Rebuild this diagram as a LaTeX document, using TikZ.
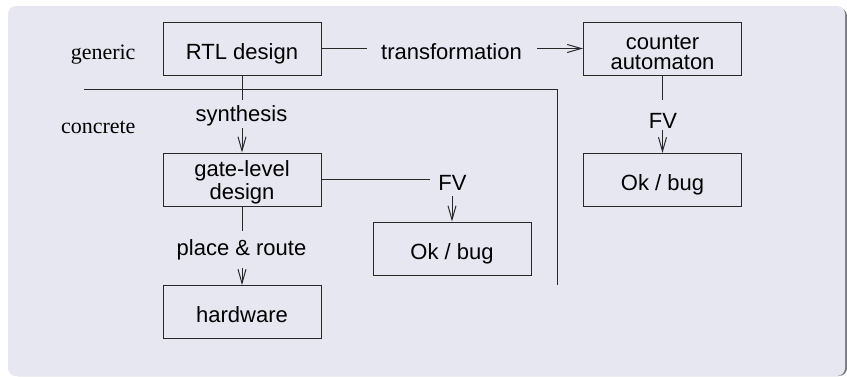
\documentclass[tikz,border=0pt]{standalone}
\usepackage{fontspec}
\setmainfont{Liberation Serif}
\setsansfont{Liberation Sans}
\usetikzlibrary{arrows.meta}

\definecolor{blockbg}{RGB}{231,231,242}
\definecolor{blockshadow}{RGB}{120,120,128}
\definecolor{ink}{RGB}{40,40,40}

\begin{document}
\begin{tikzpicture}[
  x=1pt, y=-1pt,
  line width=1pt,
  color=ink,
  stage/.style={draw=ink, line width=0.9pt, minimum width=158pt, minimum height=53pt, inner sep=0pt},
  boxtxt/.style={anchor=base, inner sep=0pt, font=\sffamily\fontsize{22}{22}\selectfont, text=black},
  flowlbl/.style={anchor=base, inner sep=0pt, text height=16pt, text depth=0pt,
                  font=\sffamily\fontsize{22}{22}\selectfont, text=black},
  levellbl/.style={anchor=base east, inner sep=0pt, font=\rmfamily\fontsize{22}{22}\selectfont, text=black},
  arr/.style={-{Straight Barb[length=14pt,width=8pt]}},
]
% frame of the block
\useasboundingbox (0,0) rectangle (847,377);
\fill[blockshadow, rounded corners=8pt] (10,8) rectangle (847,376);
\fill[blockbg, rounded corners=8pt] (8,6) rectangle (845,376);

% abstraction levels
\node[levellbl] (generic) at (136,59.3) {generic};
\node[levellbl] (concrete) at (136,133.3) {concrete};
\coordinate (sepL) at (84,90);
\coordinate (sepC) at (557,90);
\coordinate (sepB) at (557,285);
\draw (sepL) -- (sepC) -- (sepB);

% stages
\node[stage] (rtl)  at (242,48.5)  {};
\node[stage] (ca)   at (662.5,48.5) {};
\node[stage] (gate) at (242,179.5) {};
\node[stage] (ok1)  at (452,248.5) {};
\node[stage] (ok2)  at (662.5,180) {};
\node[stage] (hw)   at (242,312)   {};

\node[boxtxt] (rtltxt)  at ([yshift=-10.8pt]rtl.center) {RTL design};
\node[boxtxt] (catxtA)  at ([yshift=-0.8pt]ca.center)   {counter};
\node[boxtxt] (catxtB)  at ([yshift=-20.8pt]ca.center)  {automaton};
\node[boxtxt] (gatetxtA) at ([yshift=2.5pt]gate.center)  {gate-level};
\node[boxtxt] (gatetxtB) at ([yshift=-19.8pt]gate.center) {design};
\node[boxtxt] (ok1txt)  at ([yshift=-10.8pt]ok1.center) {Ok / bug};
\node[boxtxt] (ok2txt)  at ([yshift=-10.8pt]ok2.center) {Ok / bug};
\node[boxtxt] (hwtxt)   at ([yshift=-10.7pt]hw.center)  {hardware};

% edge labels
\node[flowlbl] (trans) at (451.5,59.3) {transformation};
\node[flowlbl] (synth) at (241.5,122)  {synthesis};
\node[flowlbl] (pr)    at (241.5,255)  {place \& route};
\node[flowlbl] (fvA)   at (452.5,191)  {FV};
\node[flowlbl] (fvB)   at (663,128.3)  {FV};

% transformation
\draw[shorten >=14pt] (rtl.east) -- (rtl.east -| trans.west);
\draw[arr, shorten <=15pt] (ca.west -| trans.east) -- (ca.west);

% synthesis
\draw[shorten >=5pt] (rtl.south) -- (rtl.south |- synth.north);
\draw[arr, shorten <=6pt] (gate.north |- synth.south) -- (gate.north);

% place & route
\draw[shorten >=7.3pt] (gate.south) -- (gate.south |- pr.north);
\draw[arr, shorten <=12pt] (hw.north |- pr.south) -- (hw.north);

% verification of the gate-level design
\draw[shorten >=8pt] (gate.east) -- (gate.east -| fvA.west);
\draw[arr, shorten <=5pt] (ok1.north |- fvA.south) -- (ok1.north);

% verification of the counter automaton
\draw[shorten >=12pt] (ca.south) -- (ca.south |- fvB.north);
\draw[arr, shorten <=1pt] (ok2.north |- fvB.south) -- (ok2.north);
\end{tikzpicture}
\end{document}
